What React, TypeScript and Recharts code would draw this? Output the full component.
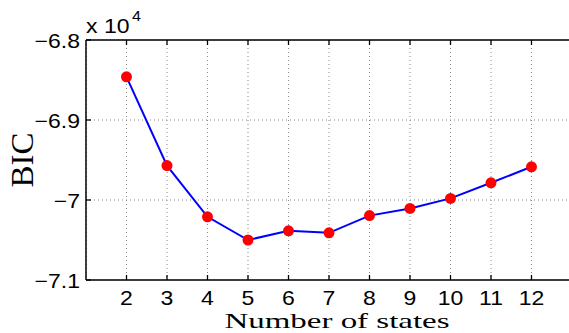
import React from "react";
import {
  CartesianGrid,
  Line,
  LineChart,
  ReferenceLine,
  XAxis,
  YAxis,
} from "recharts";

// number of HMM states vs. BIC
const states = [2, 3, 4, 5, 6, 7, 8, 9, 10, 11, 12];
const bic = [
  -68460, -69570, -70210, -70500, -70385, -70410, -70195, -70105, -69980,
  -69785, -69585,
];
const xTicks = [2, 3, 4, 5, 6, 7, 8, 9, 10, 11, 12];
const yTicks = [-71000, -70000, -69000, -68000];

const data = states.map((s, i) => ({ states: s, bic: bic[i] }));

const SANS = "'Liberation Sans', Arial, sans-serif";
const SERIF = "'Liberation Serif', 'Times New Roman', serif";
const Y_MARGIN = 5;

const fmtY = (v: number) => String(v / 10000).replace("-", "\u2212");

const YTick = (props: any) => {
  const { x, y, payload } = props;
  const ax = x + Y_MARGIN;
  return (
    <g>
      <line x1={ax} x2={ax + 5} y1={y} y2={y} stroke="#000" strokeWidth={1.3} />
      <text
        transform={`translate(${x - 1},${y + 8}) scale(1.15,1)`}
        textAnchor="end"
        fontFamily={SANS}
        fontSize={20}
        fill="#000"
      >
        {fmtY(payload.value)}
      </text>
    </g>
  );
};

const XTick = (props: any) => {
  const { x, y, payload } = props;
  return (
    <g>
      <line x1={x} x2={x} y1={y} y2={y - 5} stroke="#000" strokeWidth={1.3} />
      <line x1={x} x2={x} y1={40} y2={45} stroke="#000" strokeWidth={1.3} />
      <text
        transform={`translate(${x},${y + 25}) scale(1.15,1)`}
        textAnchor="middle"
        fontFamily={SANS}
        fontSize={20}
        fill="#000"
      >
        {payload.value}
      </text>
    </g>
  );
};

export default function App() {
  return (
    <div
      style={{
        position: "absolute",
        left: 0,
        top: 0,
        width: 569,
        height: 333,
        overflow: "hidden",
        background: "#fff",
      }}
    >
      <LineChart
        width={574}
        height={333}
        data={data}
        margin={{ top: 40, right: 2, left: 0, bottom: 28 }}
      >
        <CartesianGrid
          stroke="#888"
          strokeDasharray="1 3"
          strokeWidth={1}
        />
        <XAxis
          dataKey="states"
          type="number"
          domain={[1, 13]}
          ticks={xTicks}
          height={25}
          tickSize={0}
          tickMargin={0}
          tickLine={false}
          axisLine={{ stroke: "#000", strokeWidth: 1.5 }}
          tick={<XTick />}
        />
        <YAxis
          type="number"
          domain={[-71000, -68000]}
          ticks={yTicks}
          width={86}
          tickSize={0}
          tickMargin={Y_MARGIN}
          tickLine={false}
          axisLine={{ stroke: "#000", strokeWidth: 1.5 }}
          tick={<YTick />}
        />
        <ReferenceLine y={-68000} stroke="#000" strokeWidth={1.5} />
        <ReferenceLine x={13} stroke="#000" strokeWidth={1.5} />
        <Line
          dataKey="bic"
          type="linear"
          stroke="#0000ff"
          strokeWidth={2}
          dot={{ r: 5.5, fill: "#ff0000", stroke: "#ff0000", strokeWidth: 0 }}
          isAnimationActive={false}
        />
      </LineChart>
      <svg
        width={569}
        height={333}
        style={{ position: "absolute", left: 0, top: 0, pointerEvents: "none" }}
      >
        <text
          transform="translate(86,33) scale(1.15,1)"
          fontFamily={SANS}
          fontSize={20}
          fill="#000"
        >
          x 10
        </text>
        <text
          transform="translate(132,21) scale(1.15,1)"
          fontFamily={SANS}
          fontSize={14}
          fill="#000"
        >
          4
        </text>
        <text
          x={337}
          y={328}
          textAnchor="middle"
          fontFamily={SERIF}
          fontSize={22}
          textLength={225}
          lengthAdjust="spacingAndGlyphs"
          fill="#000"
        >
          Number of states
        </text>
        <text
          transform="translate(33,160) rotate(-90)"
          textAnchor="middle"
          fontFamily={SERIF}
          fontSize={32}
          textLength={55}
          lengthAdjust="spacingAndGlyphs"
          fill="#000"
        >
          BIC
        </text>
      </svg>
    </div>
  );
}
